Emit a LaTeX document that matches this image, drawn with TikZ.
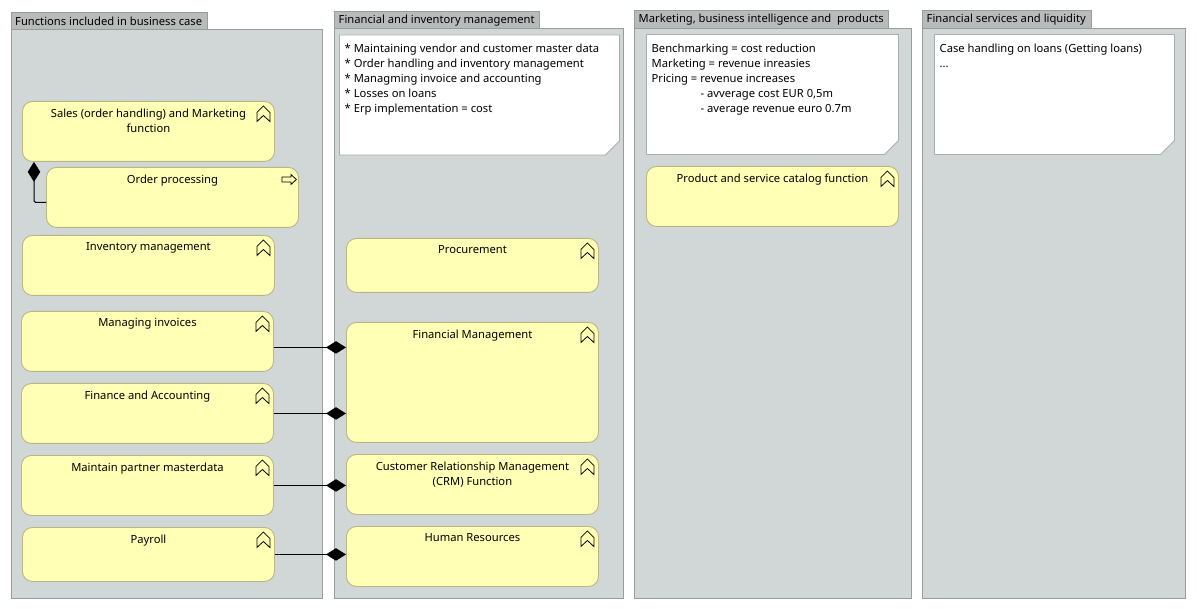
\documentclass[tikz,border=0pt]{standalone}
\usepackage{fontspec}
\setmainfont{Noto Sans}
\usetikzlibrary{arrows.meta}
\definecolor{grpfill}{HTML}{D1D6D6}
\definecolor{grpline}{HTML}{979C9C}
\definecolor{tabfill}{HTML}{B9BBBB}
\definecolor{fnfill}{HTML}{FFFFB5}
\definecolor{fnline}{HTML}{B8B884}
\definecolor{noteline}{HTML}{A8ADAD}
\tikzset{
  x=1pt,y=-1pt,
  lbl/.style={font=\fontsize{11.2}{15}\selectfont,inner sep=0pt,text=black},
  grpbody/.style={draw=grpline,fill=grpfill,line width=1pt,anchor=north west,inner sep=0pt},
  grptab/.style={lbl,draw=grpline,fill=tabfill,line width=1pt,anchor=north west,inner sep=0pt,align=left},
  fnbox/.style={draw=fnline,fill=fnfill,line width=.9pt,rounded corners=10pt,anchor=north west,inner sep=0pt},
  fntext/.style={lbl,align=center,anchor=north},
  notetext/.style={lbl,align=left,anchor=north west},
  notebox/.style={draw=noteline,fill=white,line width=.9pt},
  icon/.style={draw=black,line width=.8pt,fill=none,line join=miter},
  comp/.style={draw=black,line width=1pt,-{Diamond[length=20pt,width=12.5pt,fill=black]}}
}
\newcommand{\grp}[8]{% name x y w h tabw tabh text
  \node[grpbody,minimum width=#4pt,minimum height=#5pt] (#1) at (#2,#3) {};
  \node[grptab,minimum width=#6pt,minimum height=#7pt] (#1tab) at ([yshift=#7pt]#1.north west) {};
  \node[lbl,anchor=west] (#1lbl) at ([xshift=4.5pt,yshift=-0.5pt]#1tab.west) {#8};
}
\newcommand{\fn}[7]{% name x y w h text icon-type
  \node[fnbox,minimum width=#4pt,minimum height=#5pt] (#1) at (#2,#3) {};
  \node[fntext] (#1lbl) at ([yshift=-7.5pt]#1.north) {#6};
  #7{#1}
}
\newcommand{\chev}[1]{\draw[icon] ([xshift=-11.5pt,yshift=-5pt]#1.north east) -- ++(6.5,6.5) -- ++(0,9) -- ++(-6.5,-6) -- ++(-6.5,6) -- ++(0,-9) -- cycle;}
\newcommand{\proc}[1]{\draw[icon] ([xshift=-17pt,yshift=-10pt]#1.north east) -- ++(9,0) -- ++(0,-2.5) -- ++(5.5,5) -- ++(-5.5,5) -- ++(0,-2.5) -- ++(-9,0) -- cycle;}
\newcommand{\note}[6]{% name x y w h text
  \draw[notebox] (#2,#3) -- ++(#4,0) -- ++(0,#5-14) -- ++(-14,14) -- ++(-#4+14,0) -- cycle;
  \node[notetext] (#1) at (#2+5,#3+9) {#6};
}
\begin{document}
\begin{tikzpicture}
\useasboundingbox[fill=white] (0,0) rectangle (1197,609);
\grp{ga}{10.5}{29}{311}{569}{196}{17}{Functions included in business case}
\grp{gb}{334}{28}{289}{570}{205}{17}{Financial and inventory management}
\grp{gc}{634}{28}{277}{570}{254}{18}{Marketing, business intelligence and\ \ products}
\grp{gd}{922}{28}{263}{570}{169}{18}{Financial services and liquidity}

\note{na}{339.5}{35}{280}{120}{* Maintaining vendor and customer master data\\* Order handling and inventory management\\* Managming invoice and accounting\\* Losses on loans\\* Erp implementation = cost}
\note{nb}{646.5}{34.5}{252}{120}{Benchmarking = cost reduction\\Marketing = revenue inreasies\\Pricing = revenue increases\\\hspace*{49pt}- avverage cost EUR 0,5m\\\hspace*{49pt}- average revenue euro 0.7m}
\note{nc}{934.5}{34.5}{240}{120}{Case handling on loans (Getting loans)\\...}

\fn{sales}{22}{101}{252}{60}{Sales (order handling) and Marketing\\function}{\chev}
\fn{order}{46}{167}{252}{60}{Order processing}{\proc}
\fn{inv}{22}{235}{252}{60}{Inventory management}{\chev}
\fn{mi}{21}{311}{252}{60}{Managing invoices}{\chev}
\fn{fa}{21}{383}{252}{60}{Finance and Accounting}{\chev}
\fn{mp}{21}{455}{252}{60}{Maintain partner masterdata}{\chev}
\fn{pay}{22}{527}{252}{54}{Payroll}{\chev}
\fn{proc}{346}{238}{252}{54}{Procurement}{\chev}
\fn{fm}{346}{322}{252}{120}{Financial Management}{\chev}
\fn{crm}{346}{454}{252}{60}{Customer Relationship Management\\(CRM) Function}{\chev}
\fn{hr}{346}{526}{252}{60}{Human Resources}{\chev}
\fn{cat}{646}{166}{252}{60}{Product and service catalog function}{\chev}

\draw[comp] ([yshift=-6pt]mi.east) -- ([yshift=35pt]fm.west);
\draw[comp] (fa.east) -- ([yshift=-31pt]fm.west);
\draw[comp] (mp.east) -- ([yshift=-1pt]crm.west);
\draw[comp] (pay.east) -- ([yshift=2pt]hr.west);
\draw[comp,rounded corners=1.5pt] ([yshift=-5pt]order.west) -| ([xshift=12pt]sales.south west);
\end{tikzpicture}
\end{document}
